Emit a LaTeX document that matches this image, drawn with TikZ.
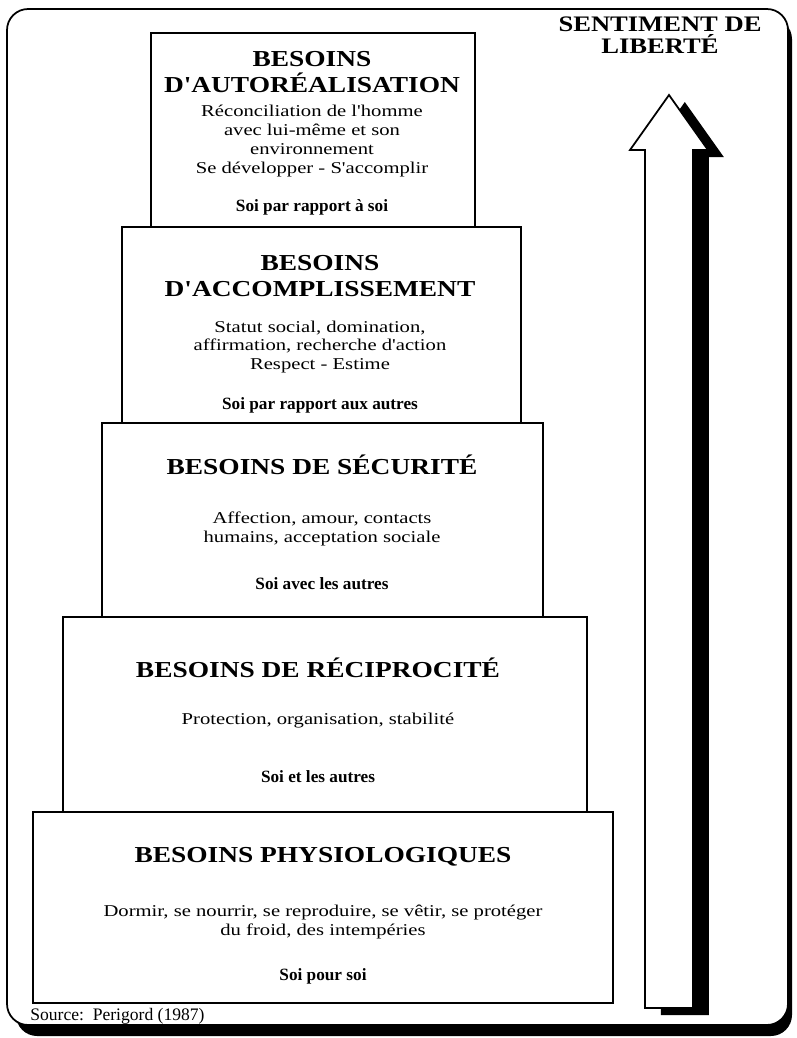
\documentclass[tikz,border=0pt]{standalone}
\usepackage{fontspec}
\setmainfont{Liberation Serif}
\newfontfamily\titrefont[FakeStretch=1.2]{Liberation Serif}
\newfontfamily\corpsfont[FakeStretch=1.25]{Liberation Serif}
\begin{document}
\begin{tikzpicture}[x=0.02cm,y=-0.02cm,
    boite/.style={draw,line width=1.3pt,fill=white},
    titre/.style={font=\titrefont\fontsize{13}{15.3}\selectfont\bfseries,align=center},
    corps/.style={font=\corpsfont\fontsize{9.4}{10.8}\selectfont,align=center},
    devise/.style={font=\fontsize{9.8}{11}\selectfont\bfseries}]
    \useasboundingbox (0,0) rectangle (796,1038);
    % cadre avec ombre
    \fill[rounded corners=12] (16,18) rectangle (792,1036);
    \draw[fill=white,line width=1pt,rounded corners=12] (7,9) rectangle (788,1025);

    % les cinq niveaux
    \draw[boite] (33,812) rectangle (613,1003);
    \draw[boite] (63,617) rectangle (587,812);
    \draw[boite] (102,423) rectangle (543,617);
    \draw[boite] (122,227) rectangle (521,423);
    \draw[boite] (151,33) rectangle (475,227);

    \node[titre] (t1) at (312,72) {BESOINS\\D'AUTORÉALISATION};
    \node[corps] (c1) at (312,141) {Réconciliation de l'homme\\avec lui-même et son\\environnement\\Se développer - S'accomplir};
    \node[devise] (d1) at (312,207) {Soi par rapport à soi};

    \node[titre] (t2) at (320,276) {BESOINS\\D'ACCOMPLISSEMENT};
    \node[corps] (c2) at (320,347) {Statut social, domination,\\affirmation, recherche d'action\\Respect - Estime};
    \node[devise] (d2) at (320,405) {Soi par rapport aux autres};

    \node[titre] (t3) at (322,465) {BESOINS DE SÉCURITÉ};
    \node[corps] (c3) at (322,529) {Affection, amour, contacts\\humains, acceptation sociale};
    \node[devise] (d3) at (322,584) {Soi avec les autres};

    \node[titre] (t4) at (318,668) {BESOINS DE RÉCIPROCITÉ};
    \node[corps] (c4) at (318,721) {Protection, organisation, stabilité};
    \node[devise] (d4) at (318,777) {Soi et les autres};

    \node[titre] (t5) at (323,857) {BESOINS PHYSIOLOGIQUES};
    \node[corps] (c5) at (323,922) {Dormir, se nourrir, se reproduire, se vêtir, se protéger\\du froid, des intempéries};
    \node[devise] (d5) at (323,976) {Soi pour soi};

    % fleche
    \begin{scope}[xshift=9,yshift=-4]
    \fill (645,1008) -- (645,150) -- (630,150) -- (669,95) -- (708,150) -- (693,150) -- (693,1008) -- cycle;
    \end{scope}
    \draw[fill=white,line width=1pt] (645,1008) -- (645,150) -- (630,150) -- (669,95) -- (708,150) -- (693,150) -- (693,1008) -- cycle;
    \node[titre,font=\titrefont\fontsize{12.6}{12.6}\selectfont\bfseries] (liberte) at (660,35) {SENTIMENT DE\\LIBERTÉ};

    \node[font=\fontsize{10}{11}\selectfont,anchor=west,inner sep=0pt] (source) at (30,1016) {Source:\ \ Perigord (1987)};
\end{tikzpicture}
\end{document}
